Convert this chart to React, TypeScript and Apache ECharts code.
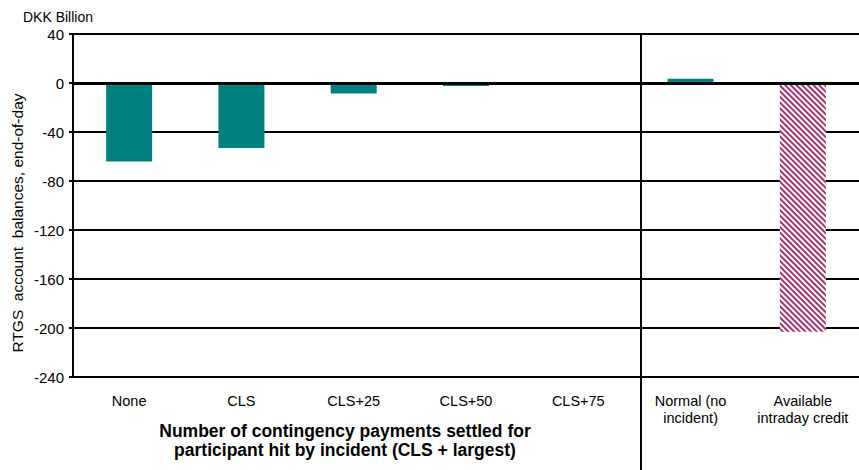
import React, { useEffect, useRef } from "react";
import * as echarts from "echarts";

const categories = ["None", "CLS", "CLS+25", "CLS+50", "CLS+75", "Normal (no\nincident)", "Available\nintraday credit"];
const balances = [-64, -53, -8.5, -2.5, 0, 3.5, -203];
const yTicks = { min: -240, max: 40, interval: 40 };
const yTitle = "RTGS  account  balances, end-of-day";
const unitLabel = "DKK Billion";
const xTitle = "Number of contingency payments settled for\nparticipant hit by incident (CLS + largest)";

const FONT = "'Liberation Sans', Arial, sans-serif";

export default function App() {
  const ref = useRef<HTMLDivElement>(null);
  useEffect(() => {
    if (!ref.current) return;
    const chart = echarts.init(ref.current, undefined, { renderer: "svg" });
    const data = balances.map((v, i) =>
      i === balances.length - 1
        ? {
            value: v,
            itemStyle: {
              color: "#ffffff",
              decal: {
                symbol: "rect",
                color: "#a3336e",
                backgroundColor: "#ffffff",
                dashArrayX: [1, 0],
                dashArrayY: [2, 2],
                rotation: Math.PI / 4,
              },
            },
          }
        : { value: v, itemStyle: { color: "#008080" } }
    );
    chart.setOption({
      animation: false,
      textStyle: { fontFamily: FONT },
      grid: { left: 73, top: 34, width: 790, height: 343, containLabel: false },
      xAxis: {
        type: "category",
        data: categories,
        axisLine: { show: false },
        axisTick: { show: false },
        axisLabel: { color: "#000", fontSize: 14.5, margin: 15, fontFamily: FONT, lineHeight: 17, interval: 0 },
      },
      yAxis: {
        type: "value",
        min: yTicks.min,
        max: yTicks.max,
        interval: yTicks.interval,
        axisLine: { show: true, lineStyle: { color: "#000", width: 2 } },
        axisTick: { show: true, length: 4, lineStyle: { color: "#000", width: 2 } },
        axisLabel: { color: "#000", fontSize: 15, margin: 9, fontFamily: FONT },
        splitLine: { show: true, lineStyle: { color: "#000", width: 2 } },
      },
      series: [
        {
          type: "bar",
          data,
          barWidth: 46,
          markLine: {
            silent: true,
            symbol: "none",
            label: { show: false },
            lineStyle: { color: "#000", width: 3, type: "solid" },
            data: [{ yAxis: 0 }],
          },
        },
      ],
      graphic: [
        {
          type: "line",
          shape: { x1: 641, y1: 34, x2: 641, y2: 470 },
          style: { stroke: "#000", lineWidth: 2 },
        },
        {
          type: "text",
          x: 23,
          y: 17,
          style: { text: unitLabel, fontSize: 14, fill: "#000", fontFamily: FONT, verticalAlign: "middle" },
        },
        {
          type: "text",
          x: 17,
          y: 223,
          rotation: Math.PI / 2,
          style: { text: yTitle, fontSize: 15.5, fill: "#000", fontFamily: FONT, align: "center", verticalAlign: "middle" },
        },
        {
          type: "text",
          x: 345,
          y: 440,
          style: {
            text: xTitle,
            fontSize: 17.5,
            fontWeight: "bold",
            fill: "#000",
            fontFamily: FONT,
            align: "center",
            verticalAlign: "middle",
            lineHeight: 19,
          },
        },
      ],
    });
    return () => chart.dispose();
  }, []);
  return <div ref={ref} style={{ width: 859, height: 470, position: "absolute", left: 0, top: 0 }} />;
}
